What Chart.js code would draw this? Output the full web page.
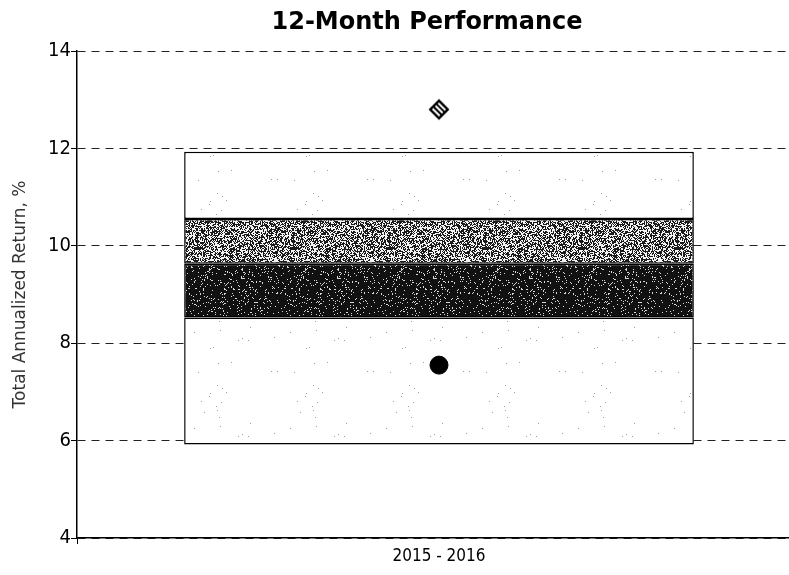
<!DOCTYPE html>
<html>
<head>
<meta charset="utf-8">
<title>12-Month Performance</title>
<script src="https://cdn.jsdelivr.net/npm/chart.js@4/dist/chart.umd.min.js"></script>
<style>
  html, body { margin: 0; padding: 0; background: #fff; overflow: hidden; width: 789px; height: 575px; }
  /* the plot area continues slightly past the visible right edge */
  #wrap { position: relative; width: 789px; height: 575px; overflow: hidden; }
  #chart { position: absolute; left: 0; top: 0; }
</style>
</head>
<body>
<div id="wrap"><canvas id="chart" width="811" height="575"></canvas></div>
<script>
// Period shown on the category axis
const categories = ['2015 - 2016'];

// Percentile bands of the peer universe: [low, high] in % return
const band5to25   = [[5.92, 8.53]];
const band25to50  = [[8.53, 9.63]];
const band50to75  = [[9.63, 10.55]];
const band75to95  = [[10.55, 11.93]];

// Individual markers
const fundReturn      = [7.55];
const benchmarkReturn = [12.8];

// Y-axis ticks
const yTicks = [4, 6, 8, 10, 12, 14];

const chartTitle = '12-Month Performance';
const narrowFont = "'DejaVu Sans Condensed', 'Liberation Sans', sans-serif";

// Small seeded generator so the halftone texture is stable between renders
function makeRng(seed) {
  let s = seed >>> 0;
  return () => {
    s = (s * 1664525 + 1013904223) >>> 0;
    return s / 4294967296;
  };
}

// Speckled halftone fill used for the shaded bands
function speckle(base, dot, density, seed) {
  const size = 96;
  const c = document.createElement('canvas');
  c.width = size; c.height = size;
  const g = c.getContext('2d');
  g.fillStyle = base;
  g.fillRect(0, 0, size, size);
  g.fillStyle = dot;
  const rnd = makeRng(seed);
  for (let y = 0; y < size; y++) {
    for (let x = 0; x < size; x++) {
      if (rnd() < density) g.fillRect(x, y, 1, 1);
    }
  }
  return g.createPattern(c, 'repeat');
}

// Striped diamond marker
function diamondMarker() {
  const c = document.createElement('canvas');
  c.width = 24; c.height = 24;
  const g = c.getContext('2d');
  g.translate(12, 12);
  g.rotate(Math.PI / 4);
  const h = 6.2;
  g.fillStyle = '#fff';
  g.fillRect(-h, -h, 2 * h, 2 * h);
  g.strokeStyle = '#000';
  g.lineWidth = 2.4;
  g.strokeRect(-h, -h, 2 * h, 2 * h);
  g.lineWidth = 2;
  [-2.1, 1.9].forEach(y => {
    g.beginPath();
    g.moveTo(-h, y);
    g.lineTo(h, y);
    g.stroke();
  });
  return c;
}

// Heading drawn above the plot area
const headline = {
  id: 'headline',
  afterDraw(chart) {
    const c = chart.ctx;
    c.save();
    c.fillStyle = '#000';
    c.font = "bold 24px 'DejaVu Sans'";
    c.textAlign = 'center';
    c.textBaseline = 'middle';
    c.fillText(chartTitle, 427, 23);
    c.restore();
  }
};

const ctx = document.getElementById('chart').getContext('2d');

const lightFill  = speckle('#ffffff', '#a0a0a0', 0.003, 11);
const midFill    = speckle('#f4f4f4', '#1a1a1a', 0.52, 23);
const darkFill   = speckle('#111111', '#d8d8d8', 0.08, 37);

const barCommon = {
  type: 'bar',
  grouped: false,
  borderColor: '#000',
  borderWidth: 1.5,
  borderSkipped: false,
  barPercentage: 1,
  categoryPercentage: 0.704,
  order: 2
};

new Chart(ctx, {
  data: {
    labels: categories,
    datasets: [
      Object.assign({}, barCommon, { label: '5th-25th', data: band5to25, backgroundColor: lightFill }),
      Object.assign({}, barCommon, { label: '25th-50th', data: band25to50, backgroundColor: darkFill }),
      Object.assign({}, barCommon, { label: '50th-75th', data: band50to75, backgroundColor: midFill }),
      Object.assign({}, barCommon, { label: '75th-95th', data: band75to95, backgroundColor: lightFill }),
      {
        type: 'line',
        label: 'Fund',
        data: fundReturn,
        showLine: false,
        pointStyle: 'circle',
        pointRadius: 9,
        pointBackgroundColor: '#000',
        pointBorderColor: '#000',
        pointBorderWidth: 1,
        order: 0
      },
      {
        type: 'line',
        label: 'Benchmark',
        data: benchmarkReturn,
        showLine: false,
        pointStyle: diamondMarker(),
        pointRadius: 9,
        order: 0
      }
    ]
  },
  options: {
    responsive: false,
    animation: false,
    layout: { padding: { left: 0, right: 0, top: 51, bottom: 0 } },
    plugins: {
      legend: { display: false },
      tooltip: { enabled: false },
      title: { display: false }
    },
    scales: {
      x: {
        offset: true,
        afterFit: axis => { axis.height = 37; },
        grid: {
          display: true,
          drawOnChartArea: false,
          drawTicks: true,
          tickLength: 6,
          tickColor: '#000',
          tickWidth: 1
        },
        border: { display: true, color: '#000', width: 1.5 },
        ticks: {
          color: '#000',
          padding: 2,
          font: { family: narrowFont, size: 17 }
        }
      },
      y: {
        min: 4,
        max: 14,
        afterFit: axis => { axis.width = 77; },
        afterBuildTicks: axis => { axis.ticks = yTicks.map(v => ({ value: v })); },
        grid: {
          color: '#222',
          lineWidth: 1,
          drawTicks: true,
          tickLength: 6,
          tickColor: '#000',
          tickWidth: 1
        },
        border: { display: true, color: '#000', width: 1.5, dash: [8, 6] },
        ticks: {
          color: '#000',
          padding: 0,
          font: { family: narrowFont, size: 20 }
        },
        title: {
          display: true,
          text: 'Total Annualized Return, %',
          color: '#333',
          font: { family: 'DejaVu Sans', size: 17 },
          padding: { top: 10, bottom: 0 }
        }
      }
    }
  },
  plugins: [headline]
});
</script>
</body>
</html>
